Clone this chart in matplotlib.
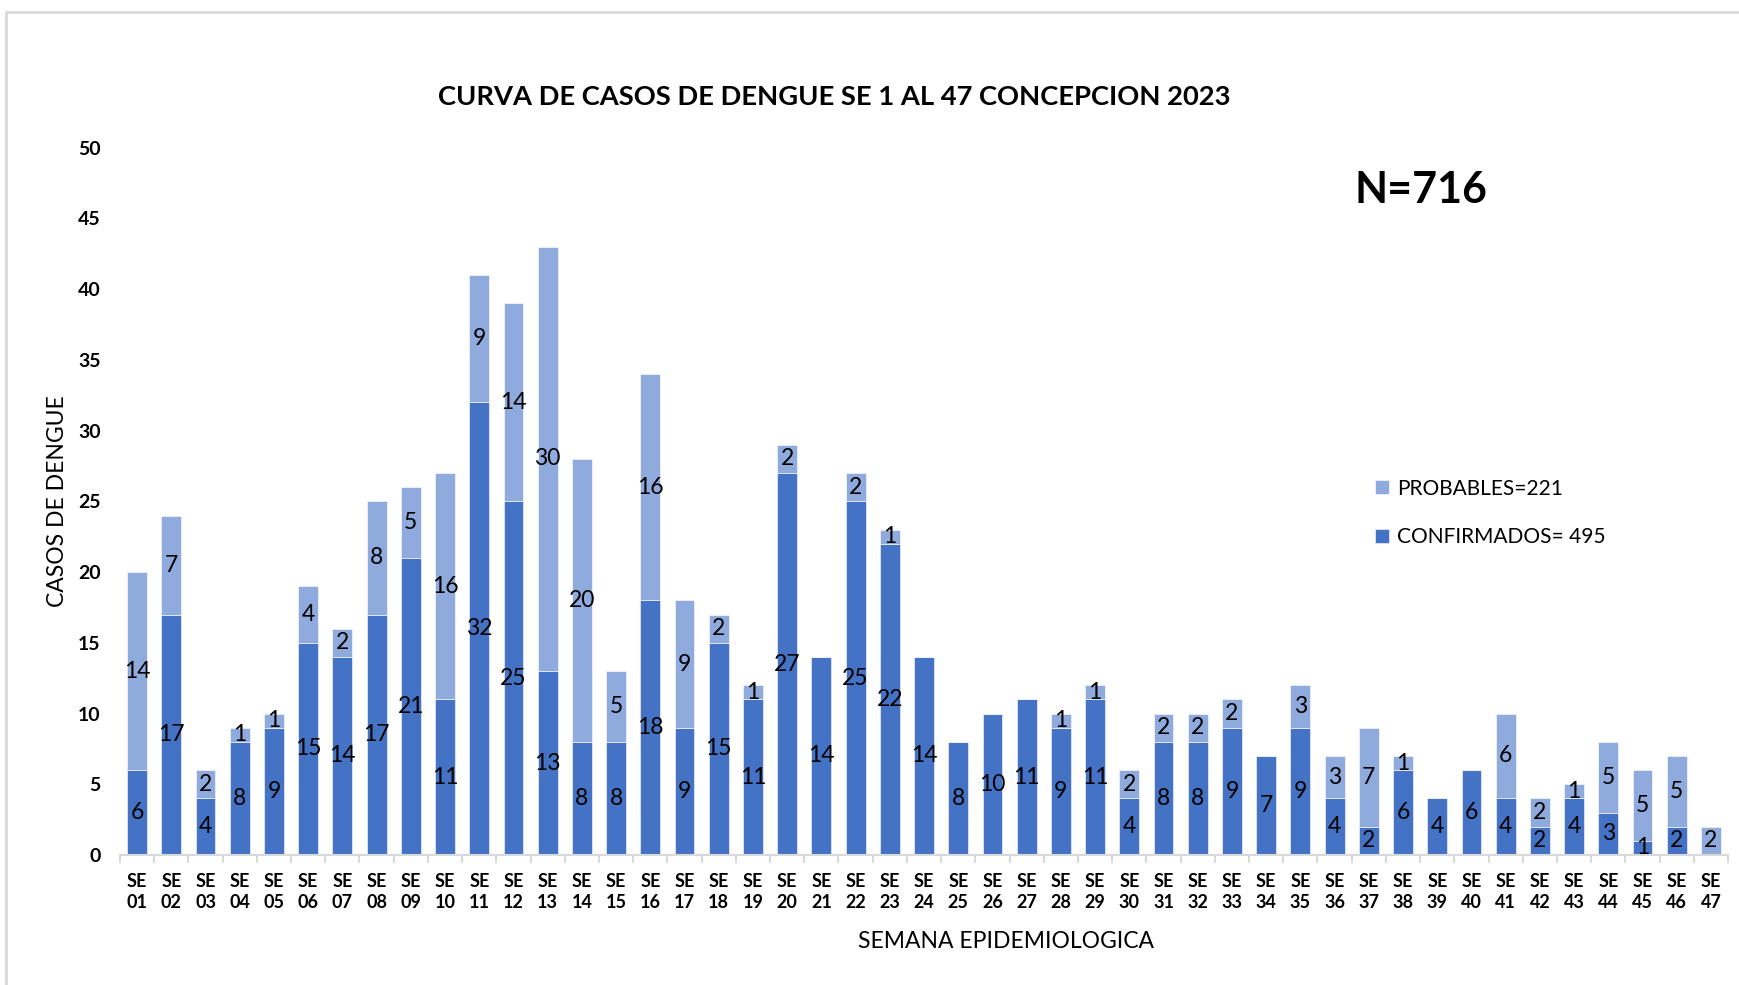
import numpy as np
import matplotlib.pyplot as plt
from matplotlib.patches import Rectangle

plt.rcParams['font.family'] = ['Lato', 'DejaVu Sans']

# datos por semana epidemiologica
semanas = ["SE\n%02d" % i for i in range(1, 48)]
confirmados = [6, 17, 4, 8, 9, 15, 14, 17, 21, 11,
               32, 25, 13, 8, 8, 18, 9, 15, 11, 27,
               14, 25, 22, 14, 8, 10, 11, 9, 11, 4,
               8, 8, 9, 7, 9, 4, 2, 6, 4, 6,
               4, 2, 4, 3, 1, 2, 0]
probables = [14, 7, 2, 1, 1, 4, 2, 8, 5, 16,
             9, 14, 30, 20, 5, 16, 9, 2, 1, 2,
             0, 2, 1, 0, 0, 0, 0, 1, 1, 2,
             2, 2, 2, 0, 3, 3, 7, 1, 0, 0,
             6, 2, 1, 5, 5, 5, 2]

c_conf = "#4472C4"
c_prob = "#8FAADC"
gris = "#D9D9D9"

fig = plt.figure(figsize=(17.39, 9.85), dpi=100)
ax = fig.add_axes([0.069, 0.132, 0.9247, 0.718])

x = np.arange(len(semanas))
b1 = ax.bar(x, confirmados, width=0.58, color=c_conf, edgecolor="white", linewidth=0.4,
            label="CONFIRMADOS= 495")
b2 = ax.bar(x, probables, width=0.58, bottom=confirmados, color=c_prob, edgecolor="white",
            linewidth=0.4, label="PROBABLES=221")

ax.bar_label(b1, labels=[str(v) if v else "" for v in confirmados], label_type="center",
             fontsize=16.5, color="black")
ax.bar_label(b2, labels=[str(v) if v else "" for v in probables], label_type="center",
             fontsize=16.5, color="black")

ax.set_xlim(-0.5, len(semanas) - 0.5)
ax.set_ylim(0, 50)
ax.set_yticks(range(0, 51, 5))
ax.set_xticks(x)
ax.set_xticklabels(semanas, fontsize=13, fontweight="bold", linespacing=1.25)
ax.set_xticks(np.arange(-0.5, len(semanas), 1), minor=True)
ax.tick_params(axis="x", which="major", length=0, pad=13)
ax.tick_params(axis="x", which="minor", length=6, width=1.5, color=gris)
ax.tick_params(axis="y", length=0, pad=14, labelsize=14)
for t in ax.get_yticklabels():
    t.set_fontweight("bold")

for s in ["top", "right", "left"]:
    ax.spines[s].set_visible(False)
ax.spines["bottom"].set_color(gris)
ax.spines["bottom"].set_linewidth(1.5)

ax.set_ylabel("CASOS DE DENGUE", fontsize=16.5, labelpad=7)

fig.text(0.48, 0.902, "CURVA DE CASOS DE DENGUE SE 1 AL 47 CONCEPCION 2023",
         ha="center", va="center", fontsize=19.7, fontweight="bold")
fig.text(0.817, 0.807, "N=716", ha="center", va="center", fontsize=31, fontweight="bold")
fig.text(0.5785, 0.044, "SEMANA EPIDEMIOLOGICA", ha="center", va="center", fontsize=16.5)

h, l = ax.get_legend_handles_labels()
fig.legend(h[::-1], l[::-1], loc="upper left", bbox_to_anchor=(0.78, 0.533), frameon=False,
           fontsize=15, handlelength=0.65, handleheight=0.65, handletextpad=0.4, labelspacing=1.35)

# marco gris del area del grafico
fig.patches.append(Rectangle((6 / 1739, -0.1), 1.2, 1 - 12 / 985 + 0.1, transform=fig.transFigure,
                             fill=False, edgecolor=gris, linewidth=2))

fig.savefig("out.png", dpi=100)
